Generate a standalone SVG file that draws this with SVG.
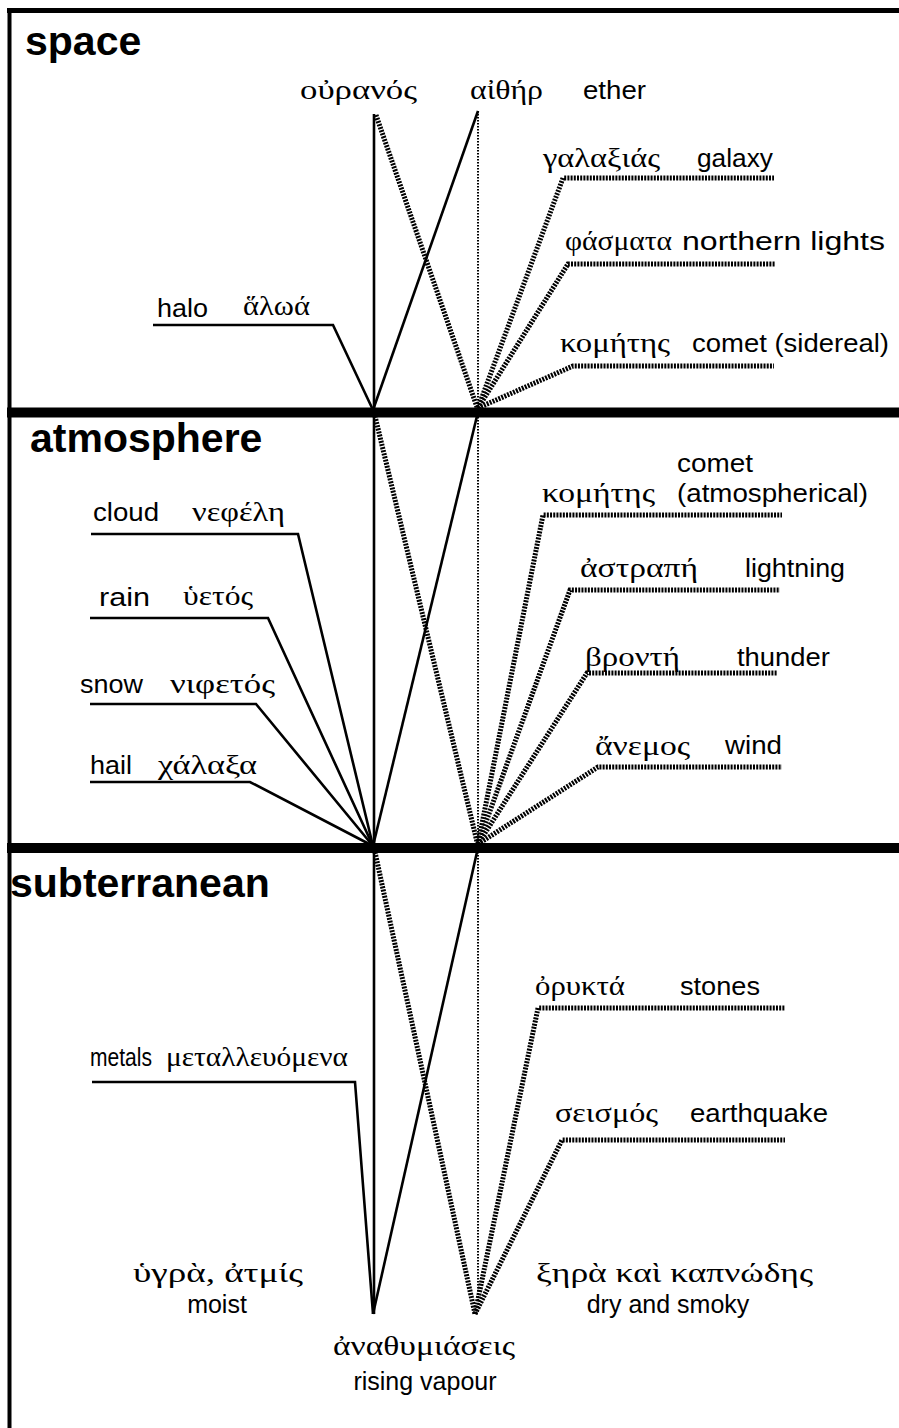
<svg xmlns="http://www.w3.org/2000/svg" width="899" height="1428" viewBox="0 0 899 1428">
<style>
.s{font-family:"Liberation Sans",Arial,sans-serif;font-size:25px;fill:#000}
.g{font-family:"Liberation Serif","DejaVu Serif",serif;font-size:28px;fill:#000}
.h{font-family:"Liberation Sans",Arial,sans-serif;font-size:41px;font-weight:bold;fill:#000}
.sol{fill:none;stroke:#000;stroke-width:2.6;stroke-linejoin:miter}
.dt{fill:none;stroke:#000;stroke-width:5;stroke-dasharray:2 1.2}
.th{fill:none;stroke:#000;stroke-width:2;stroke-dasharray:1.5 1.5}
</style>
<rect width="899" height="1428" fill="#fff"/>
<g id="frame">
<line x1="7" y1="10.5" x2="899" y2="10.5" stroke="#000" stroke-width="5"/>
<line x1="9.5" y1="8" x2="9.5" y2="1428" stroke="#000" stroke-width="4"/>
<line x1="7" y1="412.5" x2="899" y2="412.5" stroke="#000" stroke-width="10"/>
<line x1="7" y1="848" x2="899" y2="848" stroke="#000" stroke-width="10"/>
</g>
<g id="connectors">
<line class="sol" x1="374" y1="114" x2="374" y2="1314"/>
<line class="dt" x1="376" y1="115" x2="478" y2="410"/>
<line class="sol" x1="478" y1="111" x2="373" y2="410"/>
<line class="th" x1="478" y1="111" x2="478" y2="1300"/>
<polyline class="dt" points="478,408 563,178 774,178"/>
<polyline class="dt" points="478,408 568,264 775,264"/>
<polyline class="dt" points="478,408 573,366 774,366"/>
<polyline class="sol" points="153,325 333,325 373,410"/>
<line class="dt" x1="375" y1="416" x2="478" y2="846"/>
<line class="sol" x1="477" y1="416" x2="373" y2="846"/>
<polyline class="sol" points="91,534 298,534 373,846"/>
<polyline class="sol" points="90,618 268,618 373,846"/>
<polyline class="sol" points="90,704 256,704 373,846"/>
<polyline class="sol" points="90,782 250,782 373,846"/>
<polyline class="dt" points="478,844 543,515 782,515"/>
<polyline class="dt" points="478,844 570,590 780,590"/>
<polyline class="dt" points="478,844 587,673 777,673"/>
<polyline class="dt" points="478,844 598,767 782,767"/>
<line class="dt" x1="375" y1="852" x2="475" y2="1314"/>
<line class="sol" x1="477" y1="852" x2="373" y2="1314"/>
<polyline class="sol" points="92,1082 355,1082 373,1314"/>
<polyline class="dt" points="475,1314 538,1008 785,1008"/>
<polyline class="dt" points="475,1314 562,1140 785,1140"/>
</g>
<g id="section-space"><text class="h" x="25" y="55">space</text></g>
<g id="section-atmosphere"><text class="h" x="30" y="452">atmosphere</text></g>
<g id="section-subterranean"><text class="h" x="10" y="897">subterranean</text></g>
<g id="ouranos"><text class="g" x="300" y="99" textLength="117" lengthAdjust="spacingAndGlyphs">οὐρανός</text></g>
<g id="aither"><text class="g" x="470" y="99" textLength="73" lengthAdjust="spacingAndGlyphs">αἰθήρ</text><text class="s" x="583" y="99" textLength="63" lengthAdjust="spacingAndGlyphs">ether</text></g>
<g id="galaxy"><text class="g" x="543" y="167" textLength="117" lengthAdjust="spacingAndGlyphs">γαλαξιάς</text><text class="s" x="697" y="167" textLength="76" lengthAdjust="spacingAndGlyphs">galaxy</text></g>
<g id="northern-lights"><text class="g" x="565" y="250" textLength="107" lengthAdjust="spacingAndGlyphs">φάσματα</text><text class="s" x="682" y="250" textLength="203" lengthAdjust="spacingAndGlyphs">northern lights</text></g>
<g id="comet-sidereal"><text class="g" x="560" y="352" textLength="110" lengthAdjust="spacingAndGlyphs">κομήτης</text><text class="s" x="692" y="352" textLength="197" lengthAdjust="spacingAndGlyphs">comet (sidereal)</text></g>
<g id="halo"><text class="s" x="157" y="317" textLength="51" lengthAdjust="spacingAndGlyphs">halo</text><text class="g" x="243" y="315" textLength="67" lengthAdjust="spacingAndGlyphs">ἅλωά</text></g>
<g id="cloud"><text class="s" x="93" y="521" textLength="66" lengthAdjust="spacingAndGlyphs">cloud</text><text class="g" x="192" y="521" textLength="93" lengthAdjust="spacingAndGlyphs">νεφέλη</text></g>
<g id="rain"><text class="s" x="99" y="606" textLength="51" lengthAdjust="spacingAndGlyphs">rain</text><text class="g" x="183" y="605" textLength="70" lengthAdjust="spacingAndGlyphs">ὑετός</text></g>
<g id="snow"><text class="s" x="80" y="693" textLength="63" lengthAdjust="spacingAndGlyphs">snow</text><text class="g" x="170" y="693" textLength="105" lengthAdjust="spacingAndGlyphs">νιφετός</text></g>
<g id="hail"><text class="s" x="90" y="774" textLength="42" lengthAdjust="spacingAndGlyphs">hail</text><text class="g" x="158" y="774" textLength="99" lengthAdjust="spacingAndGlyphs">χάλαξα</text></g>
<g id="comet-atmospherical"><text class="s" x="677" y="472" textLength="76" lengthAdjust="spacingAndGlyphs">comet</text><text class="g" x="542" y="502" textLength="113" lengthAdjust="spacingAndGlyphs">κομήτης</text><text class="s" x="677" y="502" textLength="191" lengthAdjust="spacingAndGlyphs">(atmospherical)</text></g>
<g id="lightning"><text class="g" x="580" y="577" textLength="118" lengthAdjust="spacingAndGlyphs">ἀστραπή</text><text class="s" x="745" y="577" textLength="100" lengthAdjust="spacingAndGlyphs">lightning</text></g>
<g id="thunder"><text class="g" x="585" y="666" textLength="95" lengthAdjust="spacingAndGlyphs">βροντή</text><text class="s" x="737" y="666" textLength="93" lengthAdjust="spacingAndGlyphs">thunder</text></g>
<g id="wind"><text class="g" x="595" y="755" textLength="95" lengthAdjust="spacingAndGlyphs">ἄνεμος</text><text class="s" x="725" y="754" textLength="57" lengthAdjust="spacingAndGlyphs">wind</text></g>
<g id="stones"><text class="g" x="535" y="995" textLength="90" lengthAdjust="spacingAndGlyphs">ὀρυκτά</text><text class="s" x="680" y="995" textLength="80" lengthAdjust="spacingAndGlyphs">stones</text></g>
<g id="metals"><text class="s" x="90" y="1066" textLength="62" lengthAdjust="spacingAndGlyphs">metals</text><text class="g" x="166" y="1066" textLength="182" lengthAdjust="spacingAndGlyphs">μεταλλευόμενα</text></g>
<g id="earthquake"><text class="g" x="555" y="1122" textLength="103" lengthAdjust="spacingAndGlyphs">σεισμός</text><text class="s" x="690" y="1122" textLength="138" lengthAdjust="spacingAndGlyphs">earthquake</text></g>
<g id="moist"><text class="g" x="133" y="1282" textLength="170" lengthAdjust="spacingAndGlyphs">ὑγρὰ, ἀτμίς</text><text class="s" x="217" y="1313" text-anchor="middle">moist</text></g>
<g id="dry"><text class="g" x="536" y="1282" textLength="277" lengthAdjust="spacingAndGlyphs">ξηρὰ καὶ καπνώδης</text><text class="s" x="668" y="1313" text-anchor="middle">dry and smoky</text></g>
<g id="rising-vapour"><text class="g" x="333" y="1355" textLength="182" lengthAdjust="spacingAndGlyphs">ἀναθυμιάσεις</text><text class="s" x="425" y="1390" text-anchor="middle">rising vapour</text></g>
</svg>
